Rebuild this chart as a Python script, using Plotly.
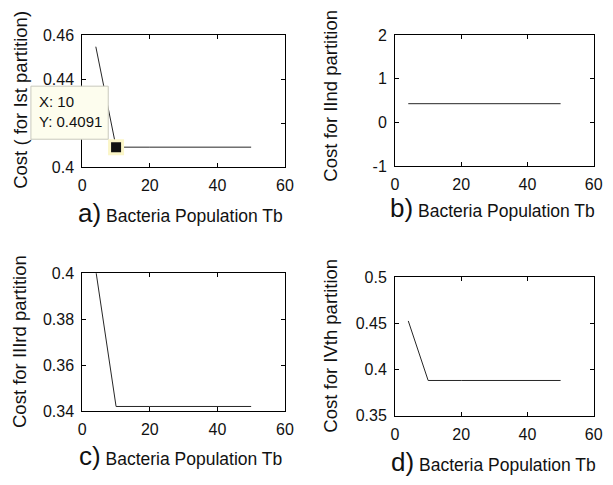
import plotly.graph_objects as go

# Bacteria population sizes and the cost reached for each partition
tb = [4, 10, 20, 30, 40, 50]
cost_p1 = [0.4547, 0.4091, 0.4091, 0.4091, 0.4091, 0.4091]
cost_p2 = [0.43, 0.43, 0.43, 0.43, 0.43, 0.43]
cost_p3 = [0.4012, 0.3420, 0.3420, 0.3420, 0.3420, 0.3420]
cost_p4 = [0.4527, 0.3883, 0.3883, 0.3883, 0.3883, 0.3883]

x_ticks = [0, 20, 40, 60]
y_titles = ["Cost ( for Ist partition)", "Cost for IInd partition",
            "Cost for IIIrd partition", "Cost for IVth partition"]
panel_tags = ["a)", "b)", "c)", "d)"]
x_title = "Bacteria Population Tb"

# highlighted data point in panel a
tip_x, tip_y = 10, 0.4091

W, H = 613, 485
FONT = "Liberation Sans, Arial, Helvetica, sans-serif"
INK = "#111111"
LINE = "#262626"


def px_x(p):
    return p / W


def px_y(p):
    return 1 - p / H


# plot-area boxes in pixels: (left, right, top, bottom)
boxes = [(80, 287, 28, 165), (399.5, 602.5, 28, 164),
         (80, 287, 275, 417.7), (399.5, 602.5, 279, 422.7)]

fig = go.Figure()
series = [cost_p1, cost_p2, cost_p3, cost_p4]
for i, ys in enumerate(series):
    ax = "" if i == 0 else str(i + 1)
    fig.add_trace(go.Scatter(x=tb, y=ys, mode="lines",
                             line=dict(color=LINE, width=1),
                             xaxis="x" + ax, yaxis="y" + ax,
                             hoverinfo="skip", showlegend=False,
                             cliponaxis=True))

# selected data point marker in panel a
fig.add_trace(go.Scatter(x=[tip_x], y=[tip_y], mode="markers",
                         marker=dict(symbol="square", size=13, color="#111111",
                                     line=dict(color="#fbf6c8", width=3)),
                         xaxis="x", yaxis="y", hoverinfo="skip",
                         showlegend=False, cliponaxis=False))

y_setup = [
    dict(range=[0.4, 0.46], tickvals=[0.4, 0.42, 0.44, 0.46],
         ticktext=["0.4", "0.42", "0.44", "0.46"]),
    dict(range=[-1, 2], tickvals=[-1, 0, 1, 2], ticktext=["-1", "0", "1", "2"]),
    dict(range=[0.34, 0.4], tickvals=[0.34, 0.36, 0.38, 0.4],
         ticktext=["0.34", "0.36", "0.38", "0.4"]),
    dict(range=[0.35, 0.5], tickvals=[0.35, 0.4, 0.45, 0.5],
         ticktext=["0.35", "0.4", "0.45", "0.5"]),
]

layout = dict(width=W, height=H, margin=dict(l=0, r=0, t=0, b=0),
              paper_bgcolor="white", plot_bgcolor="white",
              font=dict(family=FONT, color=INK))

common = dict(showline=True, linecolor="#000000", linewidth=1, mirror="ticks",
              ticks="inside", ticklen=4, tickcolor="#000000", tickwidth=1,
              showgrid=False, zeroline=False,
              tickfont=dict(family=FONT, size=16, color=INK))

annotations = []
for i, (l, r, t, b) in enumerate(boxes):
    ax = "" if i == 0 else str(i + 1)
    layout["xaxis" + ax] = dict(common, domain=[px_x(l), px_x(r)],
                                anchor="y" + ax, range=[0, 60],
                                tickvals=x_ticks,
                                ticktext=[str(v) for v in x_ticks],
                                ticklabelstandoff=4)
    layout["yaxis" + ax] = dict(common, domain=[px_y(b), px_y(t)],
                                anchor="x" + ax, ticklabelstandoff=4,
                                **y_setup[i])

# axis titles
x_title_pos = [(180, 212), (499, 207), (180, 464), (500, 470)]
y_title_pos = [(17.5, 95), (334, 91), (16.5, 346), (334, 350)]
for i in range(4):
    cx, cy = x_title_pos[i]
    annotations.append(dict(
        text=f"<span style='font-size:26px'>{panel_tags[i]}</span> {x_title}",
        x=px_x(cx), y=px_y(cy), xref="paper", yref="paper",
        xanchor="center", yanchor="middle", showarrow=False,
        font=dict(family=FONT, size=17.5, color=INK)))
    cx, cy = y_title_pos[i]
    annotations.append(dict(
        text=y_titles[i], textangle=-90,
        x=px_x(cx), y=px_y(cy), xref="paper", yref="paper",
        xanchor="center", yanchor="middle", showarrow=False,
        font=dict(family=FONT, size=18.5, color=INK)))

# data tip box for the selected point
shapes = [dict(type="rect", xref="paper", yref="paper", layer="above",
               x0=px_x(27.5), x1=px_x(106.5), y0=px_y(136), y1=px_y(81),
               fillcolor="#fdfdee", line=dict(color="#c9c9bd", width=1))]
annotations.append(dict(
    text=f"X: {tip_x}<br>Y: {tip_y:.4f}", align="left",
    x=px_x(34), y=px_y(86), xref="paper", yref="paper",
    xanchor="left", yanchor="top", showarrow=False,
    font=dict(family=FONT, size=15, color=INK)))

layout["annotations"] = annotations
layout["shapes"] = shapes
fig.update_layout(**layout)

fig.write_html("out.html")
